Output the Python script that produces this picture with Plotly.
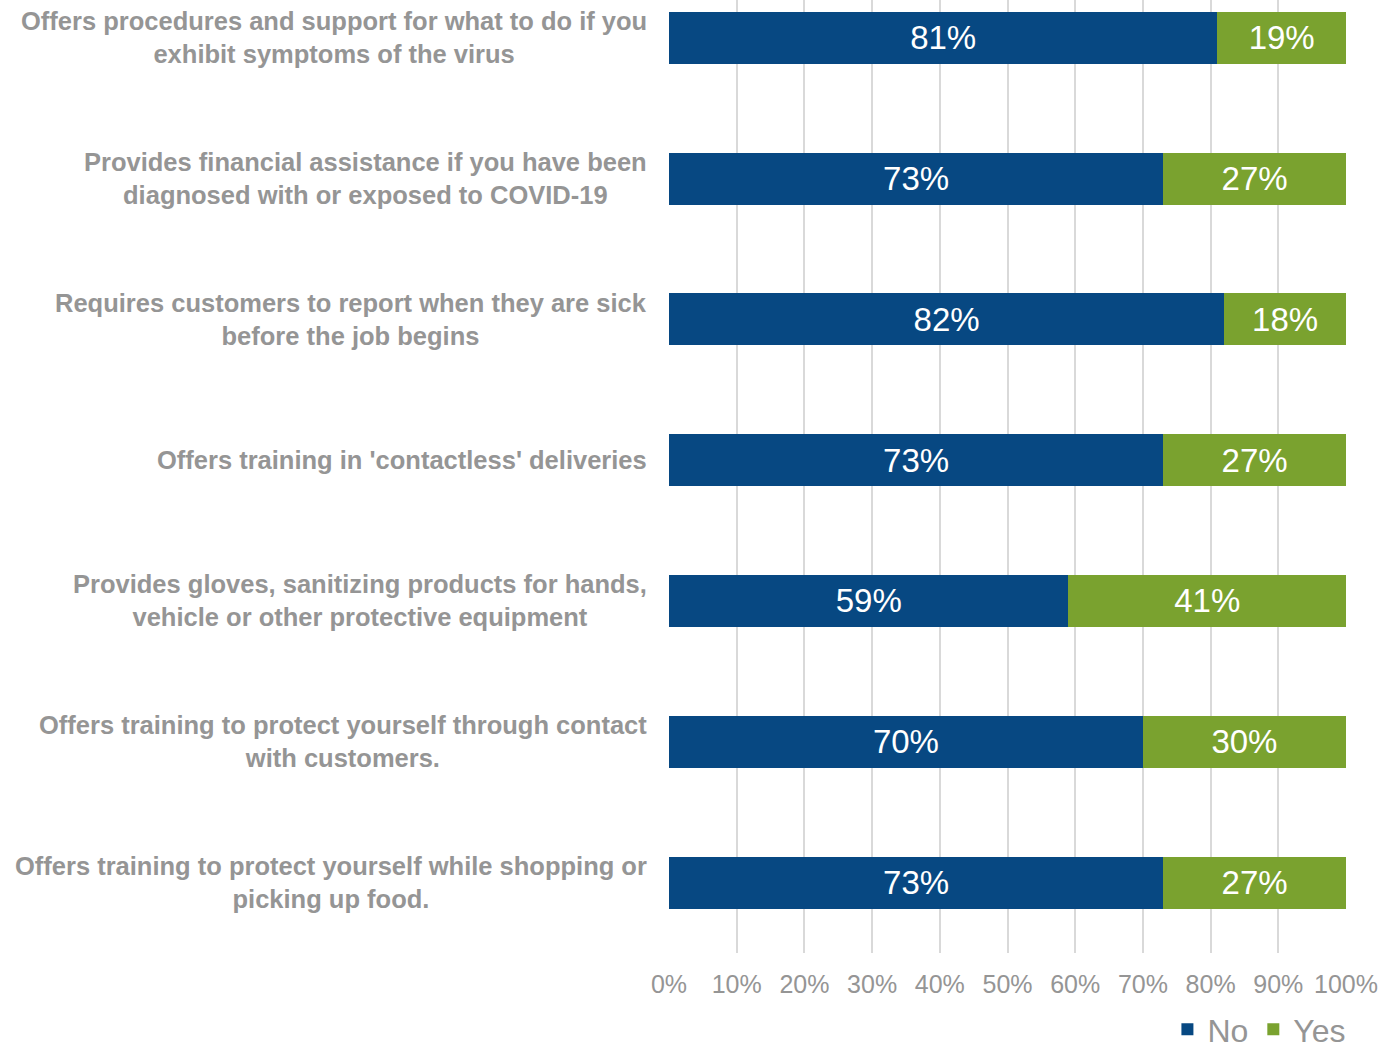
import plotly.graph_objects as go

categories = [
    "Offers procedures and support for what to do if you<br>exhibit symptoms of the virus",
    "Provides financial assistance if you have been<br>diagnosed with or exposed to COVID-19",
    "Requires customers to report when they are sick<br>before the job begins",
    "Offers training in 'contactless' deliveries",
    "Provides gloves, sanitizing products for hands,<br>vehicle or other protective equipment",
    "Offers training to protect yourself through contact<br>with customers.",
    "Offers training to protect yourself while shopping or<br>picking up food.",
]
no_values = [81, 73, 82, 73, 59, 70, 73]
yes_values = [19, 27, 18, 27, 41, 30, 27]
x_ticks = [0, 10, 20, 30, 40, 50, 60, 70, 80, 90, 100]
x_tick_labels = [f"{t}%" for t in x_ticks]

ids = [f"c{i}" for i in range(len(categories))]

BLUE = "#074882"
GREEN = "#7AA22F"
GRAY = "#959595"
FONT = "Liberation Sans, Arial, sans-serif"

fig = go.Figure()
fig.add_trace(go.Bar(
    y=ids, x=no_values, name="No", orientation="h",
    marker=dict(color=BLUE, line=dict(width=0)),
    text=[f"{v}%" for v in no_values], textposition="inside",
    insidetextanchor="middle", constraintext="none",
    textfont=dict(color="white", size=33, family=FONT),
    width=0.37,
))
fig.add_trace(go.Bar(
    y=ids, x=yes_values, name="Yes", orientation="h",
    marker=dict(color=GREEN, line=dict(width=0)),
    text=[f"{v}%" for v in yes_values], textposition="inside",
    insidetextanchor="middle", constraintext="none",
    textfont=dict(color="white", size=33, family=FONT),
    width=0.37,
))

for cid, label in zip(ids, categories):
    fig.add_annotation(
        x=0, xref="paper", y=cid, yref="y", text=f"<b>{label}</b>",
        showarrow=False, xanchor="right", yanchor="middle", align="center",
        xshift=-20, font=dict(size=25.5, color=GRAY, family=FONT),
    )

fig.update_layout(
    barmode="stack",
    width=1395, height=1057,
    margin=dict(l=669, r=49, t=0, b=104, autoexpand=False),
    plot_bgcolor="white", paper_bgcolor="white",
    font=dict(family=FONT, color=GRAY),
    xaxis=dict(
        range=[0, 100], tickvals=x_ticks, ticktext=x_tick_labels,
        showgrid=True, gridcolor="#D9D9D9", gridwidth=1.5,
        zeroline=False, showline=False, automargin=False,
        tickfont=dict(size=25, color=GRAY, family=FONT),
        ticks="outside", ticklen=9, tickcolor="rgba(0,0,0,0)",
    ),
    yaxis=dict(
        categoryorder="array", categoryarray=ids,
        range=[6.5, -0.268], showticklabels=False, showgrid=False,
        zeroline=False, showline=False, fixedrange=True, automargin=False,
    ),
    legend=dict(
        orientation="h", x=1.008, xanchor="right", xref="paper",
        y=0.026, yanchor="middle", yref="container", traceorder="normal",
        font=dict(size=32, color=GRAY, family=FONT),
        itemwidth=30,
    ),
    showlegend=True,
)

fig.write_html(
    "out.html",
    config={"displayModeBar": False},
    post_script="document.body.style.margin='0';",
)
